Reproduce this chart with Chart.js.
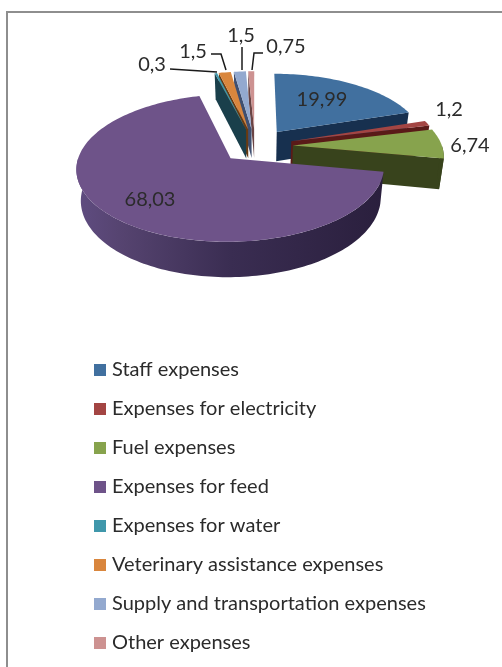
<!DOCTYPE html>
<html>
<head>
<meta charset="utf-8">
<title>Expenses</title>
<style>
  html, body { margin: 0; padding: 0; background: #fff; overflow: hidden; }
  #wrap { position: relative; width: 502px; height: 667px; overflow: hidden; }
  #frame { position: absolute; left: 6px; top: 11px; right: 0; bottom: 0; border-top: 2px solid #8e8e8e; border-left: 2px solid #8e8e8e; }
  canvas { position: absolute; left: 0; top: 0; }
</style>
</head>
<body>
<div id="wrap">
  <div id="frame"></div>
  <canvas id="chart-expenses" width="502" height="667"></canvas>
</div>
<script src="https://cdn.jsdelivr.net/npm/chart.js@4"></script>
<script>
var categories = [
  'Staff expenses',
  'Expenses for electricity',
  'Fuel expenses',
  'Expenses for feed',
  'Expenses for water',
  'Veterinary assistance expenses',
  'Supply and transportation expenses',
  'Other expenses'
];
var shares = [19.99, 1.2, 6.74, 68.03, 0.3, 1.5, 1.5, 0.75];

var topColors = ['#41709f', '#a34543', '#87a34d', '#6e5389', '#3f97ab', '#d9863d', '#93a9cf', '#cd9291'];
var wallColors = ['#17304f', '#5a1a18', '#38431c', '#2a1f3d', '#1a3f4b', '#6a3a10', '#3f4f70', '#6a4444'];

// the slices nearest the viewer go last
var drawOrder = [7, 6, 5, 4, 0, 1, 2, 3];

var labelFont = '20px Lato, "Noto Sans", sans-serif';
var textColor = '#2b2b2b';

// centre of the disc and its projection
var cx = 255, cy = 146, R = 149, tilt = 0.465, persp = 0.13, depth = 30;

function project(dx, dy, z) {
  var s = 1 / (1 - persp * dy / R);
  return {
    x: cx + dx * s * (1 - 0.025 * z / depth),
    y: cy + (dy * tilt + z) * s
  };
}

function rimPoints(ox, oy, a0, a1, z) {
  var pts = [];
  var n = Math.max(2, Math.ceil((a1 - a0) * 40));
  for (var i = 0; i <= n; i++) {
    var a = a0 + (a1 - a0) * i / n;
    pts.push(project(ox + Math.cos(a) * R, oy + Math.sin(a) * R, z));
  }
  return pts;
}

function fillPoly(ctx, pts, fill) {
  ctx.beginPath();
  pts.forEach(function (p, i) {
    if (i === 0) ctx.moveTo(p.x, p.y);
    else ctx.lineTo(p.x, p.y);
  });
  ctx.closePath();
  ctx.fillStyle = fill;
  ctx.fill();
}

function drawCutWall(ctx, ox, oy, angle, fill) {
  fillPoly(ctx, [
    project(ox, oy, 0),
    project(ox + Math.cos(angle) * R, oy + Math.sin(angle) * R, 0),
    project(ox + Math.cos(angle) * R, oy + Math.sin(angle) * R, depth),
    project(ox, oy, depth)
  ], fill);
}

function drawSlice(ctx, arc, i) {
  var a0 = arc.startAngle, a1 = arc.endAngle;
  var mid = (a0 + a1) / 2;
  var off = arc.options.offset;
  var ox = Math.cos(mid) * off, oy = Math.sin(mid) * off;

  // flat cut faces, only those turned towards the viewer
  if (Math.cos(a0) < 0) drawCutWall(ctx, ox, oy, a0, wallColors[i]);
  if (Math.cos(a1) > 0) drawCutWall(ctx, ox, oy, a1, wallColors[i]);

  // curved outer wall: the part of the rim on the near side
  var from = Math.max(a0, 0), to = Math.min(a1, Math.PI);
  if (to > from) {
    var upper = rimPoints(ox, oy, from, to, 0);
    var lower = rimPoints(ox, oy, from, to, depth).reverse();
    var fill = wallColors[i];
    if (to - from > 1) {
      fill = ctx.createLinearGradient(upper[0].x, 0, upper[upper.length - 1].x, 0);
      fill.addColorStop(0, '#2a1f3d');
      fill.addColorStop(0.5, '#3a2d52');
      fill.addColorStop(0.85, '#55436f');
      fill.addColorStop(1, '#5f4c80');
    }
    fillPoly(ctx, upper.concat(lower), fill);
  }

  // top face
  var top = [project(ox, oy, 0)].concat(rimPoints(ox, oy, a0, a1, 0));
  fillPoly(ctx, top, arc.options.backgroundColor);
}

var discPlugin = {
  id: 'disc',
  beforeDatasetsDraw: function (chart) {
    var arcs = chart.getDatasetMeta(0).data;
    drawOrder.forEach(function (i) {
      drawSlice(chart.ctx, arcs[i], i);
    });
    return false;
  }
};

// legend sits under the disc, not beside it
var legendPlugin = {
  id: 'legendSpot',
  afterLayout: function (chart) {
    var legend = chart.legend;
    legend.left = 79;
    legend.right = 502;
    legend.top = 341;
    legend.bottom = 700;
  }
};

// value label spots and their leader lines
var valueSpots = [
  { x: 322, y: 100 },
  { x: 449, y: 110 },
  { x: 470, y: 146 },
  { x: 150, y: 200 },
  { x: 152, y: 65, line: [[170, 69], [217, 72]] },
  { x: 193, y: 52, line: [[211, 54], [221, 54], [226, 70]] },
  { x: 241, y: 36, line: [[242, 47], [242, 70]] },
  { x: 286, y: 47, line: [[263, 53], [254, 53], [252, 70]] }
];

var valuePlugin = {
  id: 'values',
  afterDraw: function (chart) {
    var ctx = chart.ctx;
    ctx.save();
    ctx.font = labelFont;
    ctx.fillStyle = textColor;
    ctx.strokeStyle = '#1a1a1a';
    ctx.lineWidth = 1.5;
    ctx.textAlign = 'center';
    ctx.textBaseline = 'middle';
    valueSpots.forEach(function (spot, i) {
      ctx.fillText(String(shares[i]).replace('.', ','), spot.x, spot.y);
      if (spot.line) {
        ctx.beginPath();
        spot.line.forEach(function (p, j) {
          if (j === 0) ctx.moveTo(p[0], p[1]);
          else ctx.lineTo(p[0], p[1]);
        });
        ctx.stroke();
      }
    });
    ctx.restore();
  }
};

new Chart(document.getElementById('chart-expenses'), {
  type: 'pie',
  data: {
    labels: categories,
    datasets: [
      {
        data: shares,
        backgroundColor: topColors,
        borderColor: topColors,
        borderWidth: 8,
        offset: [38, 38, 38, 35, 38, 38, 38, 38]
      }
    ]
  },
  options: {
    responsive: false,
    animation: false,
    layout: { padding: { top: 300 } },
    plugins: {
      legend: {
        position: 'left',
        align: 'start',
        labels: {
          font: { family: 'Lato, "Noto Sans", sans-serif', size: 20 },
          color: textColor,
          boxWidth: 4,
          boxHeight: 4,
          padding: 19
        }
      },
      tooltip: { enabled: false }
    }
  },
  plugins: [discPlugin, legendPlugin, valuePlugin]
});
</script>
</body>
</html>
